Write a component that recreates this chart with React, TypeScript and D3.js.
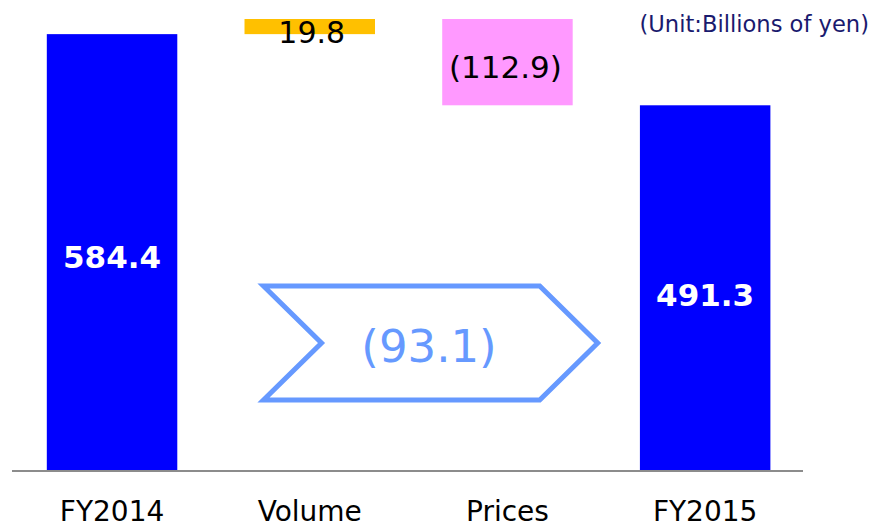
import React from "react";
import * as d3 from "d3";

const categories = ["FY2014", "Volume", "Prices", "FY2015"];
const kinds = ["total", "delta", "delta", "total"];
const values = [584.4, 19.8, -112.9, 491.3];
const valueLabels = ["584.4", "19.8", "(112.9)", "491.3"];
const changeLabel = "(93.1)";
const unitLabel = "(Unit:Billions of yen)";

const W = 875;
const H = 528;
const FONT = "'DejaVu Sans', Verdana, sans-serif";

export default function App() {
  let running = 0;
  const spans = values.map((v, i) => {
    if (kinds[i] === "total") {
      running = v;
      return { lo: 0, hi: v };
    }
    const start = running;
    running += v;
    return { lo: Math.min(start, running), hi: Math.max(start, running) };
  });
  const top = d3.max(spans, (s) => s.hi) as number;

  const x = d3
    .scaleBand<string>()
    .domain(categories)
    .range([13.2, 804])
    .paddingInner(0.34)
    .paddingOuter(0.17);
  const y = d3.scaleLinear().domain([12.8, top]).range([471, 19]);
  const baseY = 471;
  const yc = (v: number) => Math.min(baseY, y(v));

  const colors = ["#0000ff", "#ffc000", "#ff99ff", "#0000ff"];

  const cx0 = (x("Volume") as number) + 19;
  const cx1 = (x("Prices") as number) + x.bandwidth() + 25;
  const cTop = 286;
  const cBot = 400;
  const cMid = (cTop + cBot) / 2;
  const notch = 58;
  const chevron = d3.line()([
    [cx0, cTop],
    [cx1 - notch, cTop],
    [cx1, cMid],
    [cx1 - notch, cBot],
    [cx0, cBot],
    [cx0 + notch, cMid],
  ]) + "Z";

  return (
    <svg
      width={W}
      height={H}
      style={{ position: "fixed", left: 0, top: 0, background: "#fff" }}
      fontFamily={FONT}
    >
      {categories.map((c, i) => {
        const s = spans[i];
        const x0 = x(c) as number;
        const y0 = yc(s.hi);
        const y1 = yc(s.lo);
        return (
          <rect
            key={c}
            x={x0}
            y={y0}
            width={x.bandwidth()}
            height={y1 - y0}
            fill={colors[i]}
          />
        );
      })}
      <line x1={12} x2={803} y1={baseY} y2={baseY} stroke="#8c8c8c" strokeWidth={2} />

      <text
        x={(x("FY2014") as number) + x.bandwidth() / 2}
        y={(yc(spans[0].hi) + baseY) / 2 + 15}
        textAnchor="middle"
        fontSize={31}
        fontWeight="bold"
        fill="#fff"
      >
        {valueLabels[0]}
      </text>
      <text
        x={(x("FY2015") as number) + x.bandwidth() / 2}
        y={(yc(spans[3].hi) + baseY) / 2 + 18}
        textAnchor="middle"
        fontSize={31}
        fontWeight="bold"
        fill="#fff"
      >
        {valueLabels[3]}
      </text>
      <text
        x={(x("Volume") as number) + x.bandwidth() / 2 + 2}
        y={43}
        textAnchor="middle"
        fontSize={30}
        fill="#000"
      >
        {valueLabels[1]}
      </text>
      <text
        x={(x("Prices") as number) + x.bandwidth() / 2 - 2}
        y={78}
        textAnchor="middle"
        fontSize={31}
        fill="#000"
      >
        {valueLabels[2]}
      </text>

      <path d={chevron} fill="#fff" stroke="#6699ff" strokeWidth={5} />
      <text x={429} y={362} textAnchor="middle" fontSize={45} fill="#6699ff">
        {changeLabel}
      </text>

      <text x={869} y={32} textAnchor="end" fontSize={22.6} fill="#1a1a6e">
        {unitLabel}
      </text>

      {categories.map((c) => (
        <text
          key={c}
          x={(x(c) as number) + x.bandwidth() / 2}
          y={521}
          textAnchor="middle"
          fontSize={28}
          fill="#000"
        >
          {c}
        </text>
      ))}
    </svg>
  );
}
